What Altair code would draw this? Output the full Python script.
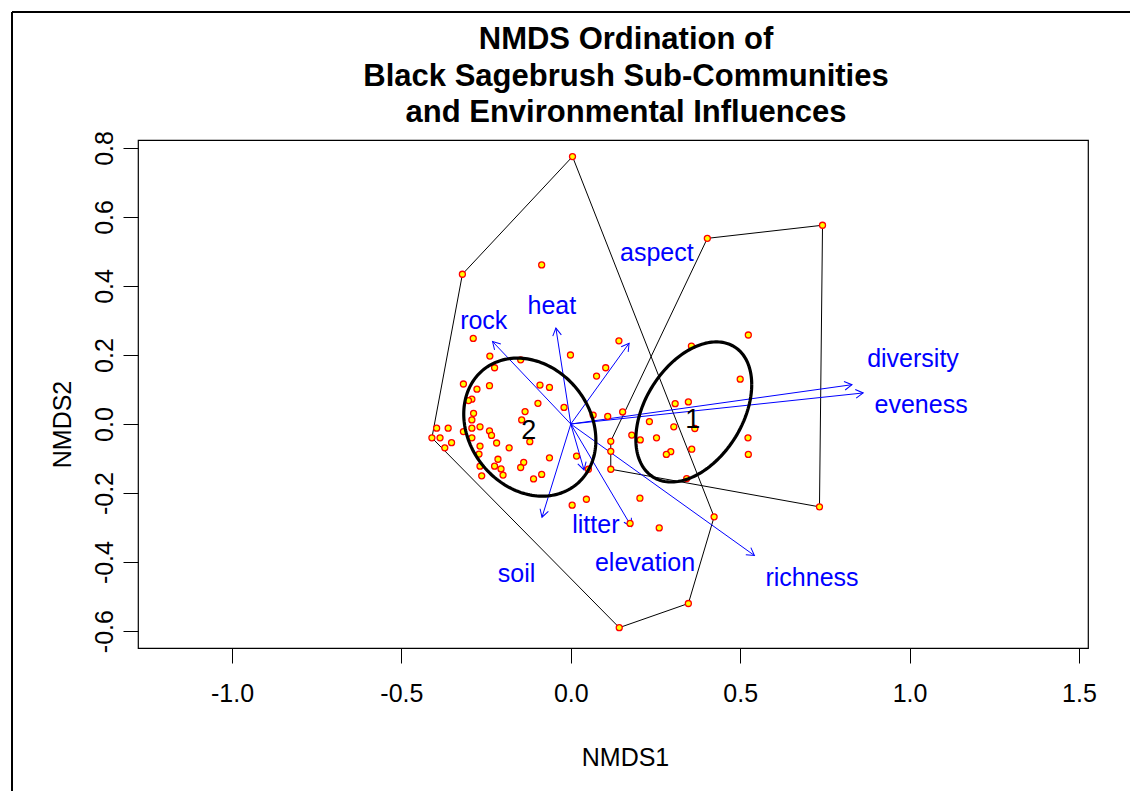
import math
import numpy as np
import pandas as pd
import altair as alt

# ---------------- data ----------------
site_x = [0.005, -0.320, -0.086, -0.288, 0.142, -0.239, -0.148, -0.225, -0.317, -0.240,
          -0.277, -0.091, -0.063, -0.292, -0.302, -0.097, -0.287, -0.135, -0.292, -0.145,
          -0.268, -0.396, -0.362, -0.292, -0.317, -0.240, -0.234, -0.410, -0.386, -0.292,
          -0.352, -0.372, -0.268, -0.219, -0.182, -0.121, -0.271, -0.215, -0.139, -0.225,
          -0.206, -0.148, -0.268, -0.263, -0.200, -0.086, -0.110, -0.001, 0.103, 0.076,
          -0.020, 0.066, 0.109, 0.153, 0.232, 0.180, 0.205, 0.253, 0.118, 0.118,
          0.118, 0.017, -0.063, 0.052, 0.004, 0.046, 0.204, 0.175, 0.295, 0.282,
          0.261, 0.524, 0.356, 0.500, 0.308, 0.347, 0.304, 0.366, 0.523, 0.357,
          0.524, 0.342, 0.423, 0.734, 0.347, 0.143, 0.403, 0.743]
site_y = [0.775, 0.434, 0.461, 0.248, 0.241, 0.197, 0.186, 0.163, 0.116, 0.111,
          0.101, 0.113, 0.106, 0.072, 0.068, 0.060, 0.031, 0.036, 0.012, 0.012,
          -0.008, -0.012, -0.012, -0.012, -0.022, -0.020, -0.033, -0.040, -0.040, -0.040,
          -0.054, -0.069, -0.064, -0.055, -0.069, -0.051, -0.087, -0.102, -0.111, -0.122,
          -0.130, -0.126, -0.122, -0.150, -0.148, -0.146, -0.159, 0.200, 0.163, 0.139,
          0.048, 0.026, 0.022, 0.035, 0.007, -0.032, -0.046, -0.040, -0.050, -0.079,
          -0.131, -0.093, -0.098, -0.131, -0.235, -0.218, -0.215, -0.288, -0.080, -0.088,
          -0.301, 0.258, 0.226, 0.130, 0.059, 0.064, -0.008, -0.013, -0.040, -0.073,
          -0.088, -0.158, -0.269, -0.240, -0.520, -0.590, 0.538, 0.576]

# convex hulls (vertices in drawing order, closed)
hull_1_x = [0.403, 0.743, 0.734, 0.118, 0.118, 0.403]
hull_1_y = [0.538, 0.576, -0.240, -0.131, -0.050, 0.538]
hull_2_x = [0.005, 0.423, 0.347, 0.143, -0.410, -0.320, 0.005]
hull_2_y = [0.775, -0.269, -0.520, -0.590, -0.040, 0.434, 0.775]

# group ellipses: centre, sd along x, sd along y, correlation
ell_groups = ["1", "2"]
ell_cx = [0.363, -0.121]
ell_cy = [0.035, -0.009]
ell_sx = [0.171, 0.195]
ell_sy = [0.203, 0.200]
ell_r = [0.39, -0.19]
grp_lab_x = [0.360, -0.124]
grp_lab_y = [0.012, -0.020]

# environmental vectors
vec_names = ["rock", "heat", "aspect", "diversity", "eveness",
             "richness", "elevation", "litter", "soil"]
vec_x = [-0.231, -0.044, 0.172, 0.830, 0.863, 0.542, 0.179, 0.039, -0.085]
vec_y = [0.239, 0.278, 0.234, 0.114, 0.090, -0.381, -0.297, -0.133, -0.270]
lab_x = [-0.257, -0.056, 0.254, 1.010, 1.034, 0.712, 0.219, 0.074, -0.160]
lab_y = [0.299, 0.342, 0.496, 0.188, 0.055, -0.446, -0.403, -0.293, -0.435]

x_ticks = [-1.0, -0.5, 0.0, 0.5, 1.0, 1.5]
y_ticks = [-0.6, -0.4, -0.2, 0.0, 0.2, 0.4, 0.6, 0.8]
x_dom = [-1.2775, 1.5266]
y_dom = [-0.649, 0.823]

title_lines = ["NMDS Ordination of", "Black Sagebrush Sub-Communities",
               "and Environmental Influences"]

# ---------------- layout ----------------
W, H = 950, 508
FONT = "Liberation Sans"
kx = W / (x_dom[1] - x_dom[0])
ky = H / (y_dom[1] - y_dom[0])

xs = alt.Scale(domain=x_dom, nice=False, zero=False)
ys = alt.Scale(domain=y_dom, nice=False, zero=False)

fix_minus = "replace(format(datum.value, '.1f'), '\u2212', '-')"

x_axis = alt.Axis(values=x_ticks, labelExpr=fix_minus, tickSize=15, tickColor="black",
                  tickWidth=1, domain=False, grid=False, labelFont=FONT, labelFontSize=25,
                  labelColor="black", labelPadding=18, labelFlush=False, labelOverlap=False,
                  title="NMDS1", titleFont=FONT, titleFontSize=25, titleFontWeight="normal",
                  titleColor="black", titleX=487, titleY=109, titleAlign="center",
                  titleBaseline="middle")
y_axis = alt.Axis(values=y_ticks, labelExpr=fix_minus, tickSize=15, tickColor="black",
                  tickWidth=1, domain=False, grid=False, labelFont=FONT, labelFontSize=25,
                  labelColor="black", labelAngle=270, labelAlign="center",
                  labelBaseline="bottom", labelPadding=6, labelFlush=False,
                  labelOverlap=False, title="NMDS2", titleFont=FONT, titleFontSize=25,
                  titleFontWeight="normal", titleColor="black", titleAngle=270,
                  titleX=-76, titleY=284, titleAlign="center", titleBaseline="middle")

# ---------------- tables ----------------
sites = pd.DataFrame({"x": site_x, "y": site_y})

hull_rows = []
for g, hx, hy in (("1", hull_1_x, hull_1_y), ("2", hull_2_x, hull_2_y)):
    for i, (a, b) in enumerate(zip(hx, hy)):
        hull_rows.append({"g": g, "i": i, "x": a, "y": b})
hulls = pd.DataFrame(hull_rows)

t = np.linspace(0, 2 * np.pi, 181)
ell_rows = []
for g, cx, cy, sx, sy, r in zip(ell_groups, ell_cx, ell_cy, ell_sx, ell_sy, ell_r):
    ex = cx + sx * np.cos(t)
    ey = cy + sy * (r * np.cos(t) + math.sqrt(1 - r * r) * np.sin(t))
    for i, (a, b) in enumerate(zip(ex, ey)):
        ell_rows.append({"g": g, "i": i, "x": float(a), "y": float(b)})
ells = pd.DataFrame(ell_rows)
grp_labels = pd.DataFrame({"g": ell_groups, "x": grp_lab_x, "y": grp_lab_y})

ang = [(math.degrees(math.atan2(vx * kx, vy * ky)) + 360) % 360 for vx, vy in zip(vec_x, vec_y)]
vecs = pd.DataFrame({"name": vec_names, "x0": 0.0, "y0": 0.0, "x": vec_x, "y": vec_y,
                     "ang": ang, "lx": lab_x, "ly": lab_y})

X = lambda f: alt.X(f, type="quantitative", scale=xs, axis=x_axis)
Y = lambda f: alt.Y(f, type="quantitative", scale=ys, axis=y_axis)

hull_layer = alt.Chart(hulls).mark_line(color="black", strokeWidth=1).encode(
    x=X("x"), y=Y("y"), detail="g:N", order="i:Q")

ell_layer = alt.Chart(ells).mark_line(color="black", strokeWidth=3.2).encode(
    x=X("x"), y=Y("y"), detail="g:N", order="i:Q")

shaft_layer = alt.Chart(vecs).mark_rule(color="#0000FF", strokeWidth=1).encode(
    x=X("x0"), y=Y("y0"), x2="x", y2="y")

head_layer = alt.Chart(vecs).mark_point(
    shape="M-0.5,0.866L0,0L0.5,0.866", filled=False, color="#0000FF",
    strokeWidth=1, size=300, opacity=1).encode(
    x=X("x"), y=Y("y"), angle=alt.Angle("ang:Q", scale=None))

vec_text = alt.Chart(vecs).mark_text(color="#0000FF", font=FONT, fontSize=25,
                                     align="center", baseline="middle").encode(
    x=X("lx"), y=Y("ly"), text="name:N")

site_layer = alt.Chart(sites).mark_point(
    shape="circle", filled=True, fill="#FFFF00", stroke="#FF0000", strokeWidth=1.3,
    size=36, opacity=1).encode(x=X("x"), y=Y("y"))

grp_text = alt.Chart(grp_labels).mark_text(color="black", font=FONT, fontSize=27,
                                           align="center", baseline="middle").encode(
    x=X("x"), y=Y("y"), text="g:N")

frame_top = alt.Chart(grp_labels).mark_rule(color="black", strokeWidth=2).encode(
    x=alt.value(-126), x2=alt.value(1000), y=alt.value(-128))
frame_left = alt.Chart(grp_labels).mark_rule(color="black", strokeWidth=2).encode(
    x=alt.value(-126), y=alt.value(-128), y2=alt.value(670))

# title drawn as three centred text lines above the plot
title_layers = []
for k, line in enumerate(title_lines):
    title_layers.append(
        alt.Chart(pd.DataFrame({"t": [line]})).mark_text(
            font=FONT, fontSize=31, fontWeight="bold", color="black",
            align="center", baseline="middle").encode(
            text="t:N", x=alt.value(488), y=alt.value(-100 + 36.5 * k)))

chart = alt.layer(
    frame_top, frame_left, hull_layer, shaft_layer, head_layer, site_layer,
    ell_layer, vec_text, grp_text, *title_layers
).properties(
    width=W, height=H,
    padding={"left": 130, "top": 132, "right": 42, "bottom": 143},
    autosize=alt.AutoSizeParams(type="none"),
).configure_view(stroke="black", strokeWidth=1.2)

chart.save("out.html", embed_options={"renderer": "svg", "actions": False})
